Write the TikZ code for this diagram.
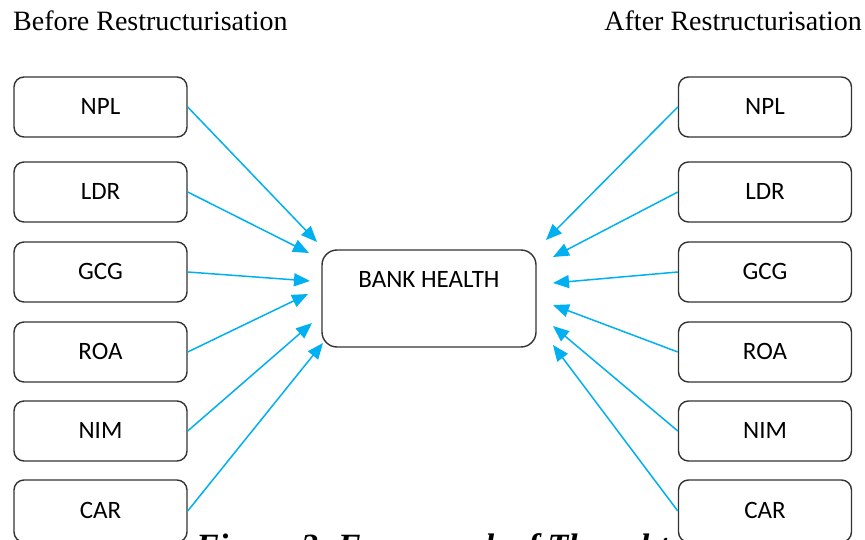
\documentclass[tikz,border=0pt]{standalone}
\usepackage{fontspec}
\setmainfont{Liberation Serif}
\newfontfamily\boxfont{Carlito}
\usetikzlibrary{arrows.meta}
\definecolor{arrowblue}{HTML}{00B0F0}
\definecolor{boxline}{HTML}{333333}
\begin{document}
\begin{tikzpicture}[x=1pt,y=-1pt,
  varbox/.style={draw=boxline, line width=1.4pt, rounded corners=10pt,
    minimum width=173pt, minimum height=60pt, inner sep=0pt,
    font=\boxfont\fontsize{25}{30}\selectfont},
  mainbox/.style={draw=boxline, line width=1.4pt, rounded corners=15pt,
    minimum width=214pt, minimum height=97pt, inner sep=0pt},
  maintext/.style={font=\boxfont\fontsize{25}{30}\selectfont, inner sep=0pt},
  title/.style={font=\fontsize{28}{34}\selectfont, inner sep=0pt},
  link/.style={draw=arrowblue, line width=1.5pt,
    -{Triangle[length=16pt,width=13pt]}}]
\useasboundingbox (0,0) rectangle (865,540);
\clip (0,0) rectangle (865,540);

% titles
\node[title, anchor=base west] (tbefore) at (13,31) {Before Restructurisation};
\node[title, anchor=base east] (tafter) at (862,31) {After Restructurisation};

% left boxes
\node[varbox] (lnpl) at (100.5,107) {\raisebox{1.5pt}{NPL}};
\node[varbox] (lldr) at (100.5,192) {\raisebox{1.5pt}{LDR}};
\node[varbox] (lgcg) at (100.5,272) {\raisebox{1.5pt}{GCG}};
\node[varbox] (lroa) at (100.5,352) {\raisebox{1.5pt}{ROA}};
\node[varbox] (lnim) at (100.5,431) {\raisebox{1.5pt}{NIM}};
\node[varbox, minimum height=62pt] (lcar) at (100.5,511) {\raisebox{1.5pt}{CAR}};

% right boxes
\node[varbox] (rnpl) at (765,107) {\raisebox{1.5pt}{NPL}};
\node[varbox] (rldr) at (765,192) {\raisebox{1.5pt}{LDR}};
\node[varbox] (rgcg) at (765,272) {\raisebox{1.5pt}{GCG}};
\node[varbox] (rroa) at (765,352) {\raisebox{1.5pt}{ROA}};
\node[varbox] (rnim) at (765,431) {\raisebox{1.5pt}{NIM}};
\node[varbox, minimum height=62pt] (rcar) at (765,511) {\raisebox{1.5pt}{CAR}};

% centre box
\node[mainbox] (bank) at (429,298.5) {};
\node[maintext] (banktext) at (429,279) {BANK HEALTH};

% arrow tips (free ends)
\coordinate (tl1) at (317,242);
\coordinate (tl2) at (309,253);
\coordinate (tl3) at (310,281);
\coordinate (tl4) at (308,294);
\coordinate (tl5) at (312,323);
\coordinate (tl6) at (323,343);
\coordinate (tr1) at (546,240);
\coordinate (tr2) at (553,257);
\coordinate (tr3) at (553,283);
\coordinate (tr4) at (553,305);
\coordinate (tr5) at (553,326);
\coordinate (tr6) at (553,345);

\draw[link] (lnpl.east) -- (tl1);
\draw[link] (lldr.east) -- (tl2);
\draw[link] (lgcg.east) -- (tl3);
\draw[link] (lroa.east) -- (tl4);
\draw[link] (lnim.east) -- (tl5);
\draw[link] (lcar.east) -- (tl6);
\draw[link] (rnpl.west) -- (tr1);
\draw[link] (rldr.west) -- (tr2);
\draw[link] (rgcg.west) -- (tr3);
\draw[link] (rroa.west) -- (tr4);
\draw[link] (rnim.west) -- (tr5);
\draw[link] (rcar.west) -- (tr6);

% caption (cut off by the lower edge)
\node[anchor=base west, inner sep=0pt, font=\bfseries\itshape\fontsize{34}{40}\selectfont] (caption) at (196,557) {Figure 2. Framework of Thought};
\end{tikzpicture}
\end{document}
